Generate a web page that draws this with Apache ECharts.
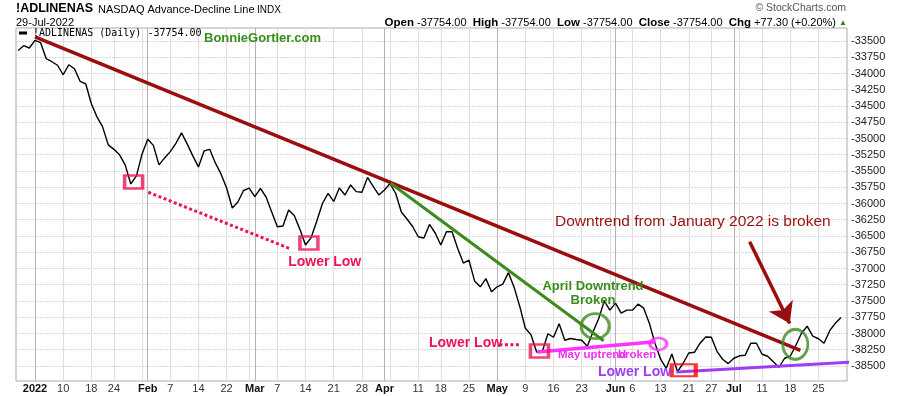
<!DOCTYPE html>
<html>
<head>
<meta charset="utf-8">
<script src="https://cdn.jsdelivr.net/npm/echarts@6/dist/echarts.min.js"></script>
<style>html,body{margin:0;padding:0;background:#fff}#c{width:900px;height:396px}</style>
</head>
<body>
<div id="c"></div>
<script>
// ---- trading days (categories) ----
const dates = [
'12-29','12-30','12-31',
'01-03','01-04','01-05','01-06','01-07','01-10','01-11','01-12','01-13','01-14','01-18','01-19','01-20','01-21','01-24','01-25','01-26','01-27','01-28','01-31',
'02-01','02-02','02-03','02-04','02-07','02-08','02-09','02-10','02-11','02-14','02-15','02-16','02-17','02-18','02-22','02-23','02-24','02-25','02-28',
'03-01','03-02','03-03','03-04','03-07','03-08','03-09','03-10','03-11','03-14','03-15','03-16','03-17','03-18','03-21','03-22','03-23','03-24','03-25','03-28','03-29','03-30','03-31',
'04-01','04-04','04-05','04-06','04-07','04-08','04-11','04-12','04-13','04-14','04-18','04-19','04-20','04-21','04-22','04-25','04-26','04-27','04-28','04-29',
'05-02','05-03','05-04','05-05','05-06','05-09','05-10','05-11','05-12','05-13','05-16','05-17','05-18','05-19','05-20','05-23','05-24','05-25','05-26','05-27','05-31',
'06-01','06-02','06-03','06-06','06-07','06-08','06-09','06-10','06-13','06-14','06-15','06-16','06-17','06-21','06-22','06-23','06-24','06-27','06-28','06-29','06-30',
'07-01','07-05','07-06','07-07','07-08','07-11','07-12','07-13','07-14','07-15','07-18','07-19','07-20','07-21','07-22','07-25','07-26','07-27','07-28','07-29'
];

// ---- !ADLINENAS daily values ----
const adValues = [
-33645,-33572,-33608,
-33490,-33526,-33773,-33819,-33873,-34019,-33865,-33927,-34120,-34158,-34466,-34667,-34821,-35098,-35167,-35252,-35406,-35699,-35576,-35237,
-35013,-35106,-35406,-35299,-35202,-35075,-34913,-35083,-35268,-35437,-35191,-35167,-35376,-35545,-35761,-36069,-35977,-35800,-35765,
-35895,-35769,-35900,-36131,-36357,-36347,-36100,-36185,-36398,-36639,-36524,-36270,-36000,-35843,-35969,-35761,-35869,-35715,-35818,-35827,-35599,-35738,-35869,
-35792,-35692,-35846,-36131,-36239,-36354,-36512,-36532,-36323,-36454,-36639,-36435,-36435,-36693,-36917,-36871,-37194,-37282,-37156,-37359,
-37282,-37241,-37064,-37287,-37580,-37919,-38019,-38284,-38281,-38004,-38058,-37850,-38104,-38077,-38093,-38104,-38196,-37976,-37772,-37502,-37641,
-37533,-37687,-37641,-37641,-37548,-37610,-37841,-38150,-38396,-38535,-38315,-38588,-38458,-38300,-38289,-38150,-38053,-38058,-38274,-38396,-38463,
-38381,-38343,-38335,-38150,-38150,-38320,-38350,-38435,-38520,-38381,-38350,-38181,-37996,-37888,-38042,-38081,-38150,-37957,-37842,-37754
];

// ---- x-axis tick labels / grid ----
const tickLabels = [
['01-03','2022'],['01-10','10'],['01-18','18'],['01-24','24'],['02-01','Feb'],['02-07','7'],['02-14','14'],['02-22','22'],
['03-01','Mar'],['03-07','7'],['03-14','14'],['03-21','21'],['03-28','28'],['04-01','Apr'],['04-11','11'],['04-18','18'],['04-25','25'],
['05-02','May'],['05-09','9'],['05-16','16'],['05-23','23'],['06-01','Jun'],['06-06','6'],['06-13','13'],['06-21','21'],['06-27','27'],
['07-01','Jul'],['07-11','11'],['07-18','18'],['07-25','25']
];
const monthLabels = ['2022','Feb','Mar','Apr','May','Jun','Jul'];
const weekLines = ['01-03','01-10','01-18','01-24','01-31','02-07','02-14','02-22','02-28','03-07','03-14','03-21','03-28','04-04','04-11','04-18','04-25','05-02','05-09','05-16','05-23','05-31','06-06','06-13','06-21','06-27','07-05','07-11','07-18','07-25'];
const monthLines = ['01-03','02-01','03-01','04-01','05-02','06-01','07-01'];

// ---- y-axis tick labels ----
const yTicks = [-38500,-38250,-38000,-37750,-37500,-37250,-37000,-36750,-36500,-36250,-36000,-35750,-35500,-35250,-35000,-34750,-34500,-34250,-34000,-33750,-33500];

// ---- annotation endpoints [trading-day index, value] ----
const janTrend   = [[3,-33438],[138.8,-38258]];
const brokenArrow = [[129.8,-36589],[136.9,-37846]];
const aprilTrend = [[66.1,-35689],[103.9,-38111]];
const mayTrend   = [[92.1,-38284],[113.1,-38127]];
const juneLow    = [[116.8,-38592],[148.7,-38438]];
const lowerLowDots1 = [[23.1,-35827],[48.1,-36690]];
const lowerLowDots2 = [[85.4,-38173],[89.2,-38173]];
const lowBoxes   = [[20.5,-35669],[51.6,-36609],[92.5,-38270]];
const juneLowBox = [[118.1,-38566]];
const greenCircles = [[102.4,-37888],[137.9,-38166]];
const magentaCircle = [[113.6,-38161]];

const idx = d => dates.indexOf(d);
const labelMap = {};
tickLabels.forEach(([d, t]) => { labelMap[idx(d)] = t; });

const chart = echarts.init(document.getElementById('c'), null, {renderer: 'canvas'});
const FONT = '"Liberation Sans", Arial, sans-serif';
const XMIN = -0.37, XMAX = 147.07;

const seg = (pts, color, width, type, extra) => Object.assign({
  type: 'line', data: pts, symbol: 'none', silent: true, animation: false,
  lineStyle: {color: color, width: width, type: type || 'solid', cap: 'butt'}, z: 5
}, extra || {});

const box = (pts, color, w, h) => pts.map(p => ({
  value: p, symbol: 'rect', symbolSize: [w, h],
  itemStyle: {color: 'rgba(0,0,0,0)', borderColor: color, borderWidth: 3}
}));
const ring = (pts, color, w, h) => pts.map(p => ({
  value: p, symbol: 'circle', symbolSize: [w, h],
  itemStyle: {color: 'rgba(0,0,0,0)', borderColor: color, borderWidth: 3}
}));

const txt = (text, x, y, size, color, weight, align) => ({
  type: 'text', x: x, y: y, z: 100, silent: true,
  style: {text: text, fill: color, fontSize: size, fontWeight: weight || 'normal', fontFamily: FONT,
          align: align || 'left', verticalAlign: 'middle', textAlign: align || 'left', textVerticalAlign: 'middle'}
});

const option = {
  backgroundColor: '#fff',
  animation: false,
  grid: {left: 16, right: 53, top: 28, bottom: 15, show: true, borderColor: '#a9a9b0', borderWidth: 1, backgroundColor: 'transparent'},
  legend: {
    left: 19, top: 28, padding: 0, itemWidth: 8, itemHeight: 3, icon: 'rect', selectedMode: false,
    data: ['!ADLINENAS'],
    formatter: () => '!ADLINENAS (Daily) -37754.00',
    textStyle: {fontFamily: '"DejaVu Sans Mono", monospace', fontSize: 10, color: '#000', padding: [0,0,0,1]}
  },
  xAxis: [
    {
      type: 'value', min: XMIN, max: XMAX, position: 'bottom',
      axisLine: {show: false},
      axisTick: {show: false, customValues: weekLines.map(idx)},
      splitLine: {show: true, lineStyle: {color: '#dedede', width: 1}},
      axisLabel: {
        show: true, customValues: tickLabels.map(t => idx(t[0])), margin: 2,
        fontSize: 11, fontFamily: FONT, color: '#333',
        formatter: v => {
          const t = labelMap[Math.round(v)] || '';
          return monthLabels.indexOf(t) >= 0 ? '{b|' + t + '}' : t;
        },
        rich: {b: {fontWeight: 'bold', fontSize: 11, fontFamily: FONT, color: '#111'}}
      }
    },
    {
      type: 'value', min: XMIN, max: XMAX, position: 'top',
      axisLine: {show: false}, axisLabel: {show: false},
      axisTick: {show: false, customValues: monthLines.map(idx)},
      splitLine: {show: true, lineStyle: {color: '#b4b4b4', width: 1}}
    }
  ],
  yAxis: {
    type: 'value', position: 'right', min: -38731, max: -33300,
    axisLine: {show: false},
    axisTick: {show: false, customValues: yTicks},
    splitLine: {show: true, lineStyle: {color: '#d8d8d8', width: 1, type: [2, 1]}},
    axisLabel: {customValues: yTicks, margin: 4, fontSize: 11, fontFamily: FONT, color: '#222', formatter: v => String(v)}
  },
  series: [
    {
      name: '!ADLINENAS', type: 'line', xAxisIndex: 0, symbol: 'none', showSymbol: false,
      data: adValues.map((v, i) => [i, v]),
      lineStyle: {color: '#000', width: 1.4}, itemStyle: {color: '#000'}, z: 3
    },
    seg(janTrend, '#990e0e', 3.5),
    seg(aprilTrend, '#3d8b1f', 3),
    seg(mayTrend, '#ff33ff', 3.5),
    seg(juneLow, '#9d3ef2', 3, 'solid', {clip: false}),
    seg(lowerLowDots1, '#ee1452', 3, [3, 2.5]),
    seg(lowerLowDots2, '#ee1452', 3, [3, 2.5]),
    {
      type: 'line', data: [], silent: true, z: 6,
      markLine: {
        silent: true, animation: false, label: {show: false}, symbol: ['none', 'arrow'], symbolSize: 20,
        lineStyle: {color: '#990e0e', width: 3.5, type: 'solid'},
        itemStyle: {color: '#990e0e'},
        emphasis: {disabled: true},
        data: [[{coord: brokenArrow[0]}, {coord: brokenArrow[1]}]]
      }
    },
    {type: 'scatter', silent: true, animation: false, z: 7, data: box(lowBoxes, '#ee1452', 18, 13)},
    {type: 'scatter', silent: true, animation: false, z: 7, data: box(juneLowBox, '#ff0000', 24, 12)},
    {type: 'scatter', silent: true, animation: false, z: 7, data: ring(greenCircles, '#3d8b1f', 28, 25).map((d, i) => i === 1 ? Object.assign(d, {symbolSize: [25, 30]}) : d)},
    {type: 'scatter', silent: true, animation: false, z: 7, data: ring(magentaCircle, '#ff33ff', 17, 12)}
  ],
  graphic: [
    txt('!ADLINENAS', 16, 9, 12.5, '#000', 'bold'),
    txt('NASDAQ Advance-Decline Line', 98, 9.5, 11, '#000'),
    txt('INDX', 257, 10, 10, '#000'),
    txt('29-Jul-2022', 16, 22.5, 11, '#000'),
    txt('\u00a9 StockCharts.com', 846, 8.5, 10.5, '#555', 'normal', 'right'),
    {
      type: 'text', x: 847, y: 22.5, z: 100, silent: true,
      style: {
        text: '{b|Open} -37754.00  {b|High} -37754.00  {b|Low} -37754.00  {b|Close} -37754.00  {b|Chg} +77.30 (+0.20%) {t|\u25b2}',
        fill: '#000', fontSize: 11, fontFamily: FONT, align: 'right', verticalAlign: 'middle', textAlign: 'right', textVerticalAlign: 'middle',
        rich: {b: {fontWeight: 'bold', fontSize: 11.5, fontFamily: FONT, fill: '#000'}, t: {fontSize: 8, fill: '#2e7d1e', fontFamily: FONT}}
      }
    },
    txt('BonnieGortler.com', 204, 38.5, 13, '#3a8c1a', 'bold'),
    txt('Lower Low', 324.7, 262.5, 14, '#ee1452', 'bold', 'center'),
    txt('Lower Low', 429, 343, 14, '#ee1452', 'bold'),
    txt('April Downtrend', 593, 286, 13, '#3d8b1f', 'bold', 'center'),
    txt('Broken', 593, 300, 13, '#3d8b1f', 'bold', 'center'),
    txt('May uptrend', 558, 355, 11.5, '#f030f0', 'bold'),
    txt('broken', 618, 354.5, 11.5, '#f030f0', 'bold'),
    txt('Lower Low', 598, 372.5, 14, '#9d3ef2', 'bold'),
    txt('Downtrend from January 2022 is broken', 555, 221.5, 15.5, '#9a1111')
  ]
};
chart.setOption(option);
</script>
</body>
</html>
